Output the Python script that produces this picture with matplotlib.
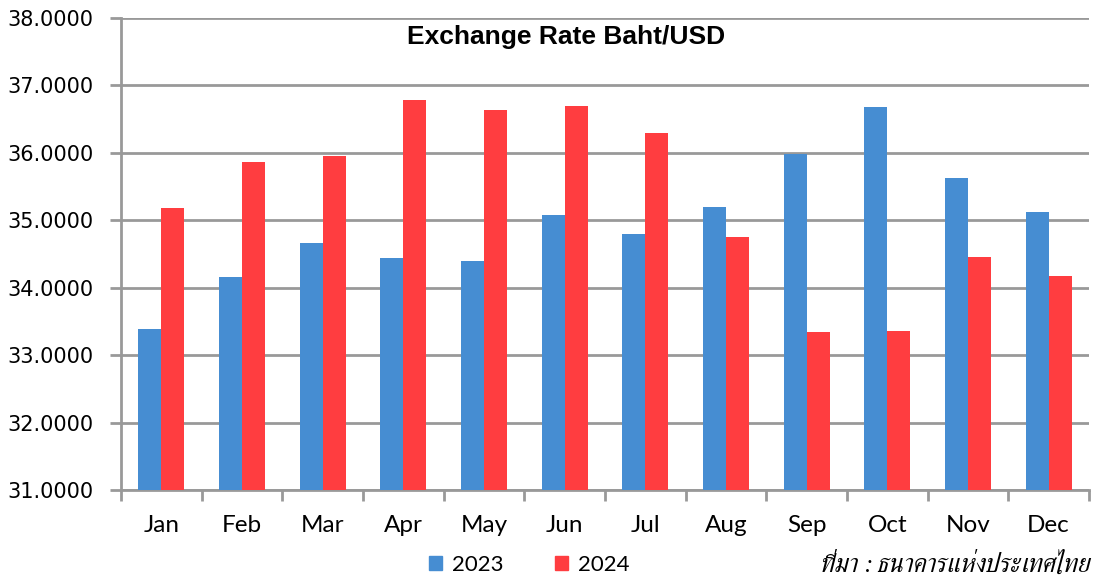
import matplotlib
matplotlib.use("Agg")
import matplotlib.pyplot as plt
import numpy as np
from matplotlib import font_manager
from matplotlib.ft2font import FT2Font
from matplotlib.patches import Rectangle

months = ["Jan", "Feb", "Mar", "Apr", "May", "Jun", "Jul", "Aug", "Sep", "Oct", "Nov", "Dec"]
rate_2023 = [33.39, 34.16, 34.66, 34.44, 34.40, 35.08, 34.79, 35.20, 35.99, 36.68, 35.62, 35.13]
rate_2024 = [35.18, 35.86, 35.95, 36.78, 36.64, 36.70, 36.29, 34.75, 33.35, 33.36, 34.45, 34.18]
series_labels = ["2023", "2024"]
yticks = [31, 32, 33, 34, 35, 36, 37, 38]
title = "Exchange Rate Baht/USD"
source = "ที่มา : ธนาคารแห่งประเทศไทย"

# find a font with Thai glyphs
thai_font = None
for f in font_manager.fontManager.ttflist:
    try:
        cm = FT2Font(f.fname).get_charmap()
        if ord("ท") in cm and ord("ไ") in cm:
            thai_font = f.name
            if "Italic" in f.fname or f.style == "italic":
                break
    except Exception:
        pass

c23 = "#468DD2"
c24 = "#FF3D40"
grid_c = "#999999"

fig = plt.figure(figsize=(10.93, 5.83), dpi=100)
ax = fig.add_axes([0.1107, 0.1595, 0.9963 - 0.1107, 0.9691 - 0.1595])

x = np.arange(len(months))
w = 0.285
ax.bar(x - w / 2, [v - 31 for v in rate_2023], w, bottom=31, color=c23, zorder=3, label=series_labels[0])
ax.bar(x + w / 2, [v - 31 for v in rate_2024], w, bottom=31, color=c24, zorder=3, label=series_labels[1])

ax.set_ylim(31, 38)
ax.set_xlim(-0.5, len(months) - 0.5)
ax.set_yticks(yticks)
ax.set_yticklabels([f"{t:.4f}" for t in yticks], fontsize=15, family="DejaVu Sans")
ax.yaxis.grid(True, color=grid_c, linewidth=2, zorder=0)
ax.set_axisbelow(True)
for s in ["top", "right"]:
    ax.spines[s].set_visible(False)
for s in ["left", "bottom"]:
    ax.spines[s].set_color(grid_c)
    ax.spines[s].set_linewidth(2)
ax.tick_params(axis="y", length=8, width=2, color=grid_c, pad=12)

ax.set_xticks(x)
ax.set_xticklabels(months, fontsize=17.5, family="Lato")
ax.tick_params(axis="x", length=0, pad=18)
ax.set_xticks(np.arange(len(months) + 1) - 0.5, minor=True)
ax.tick_params(axis="x", which="minor", length=8, width=2, color=grid_c)

fig.text(566 / 1093, 1 - 37 / 583, title, ha="center", va="center",
         fontsize=19, fontweight="bold", family="Liberation Sans")

# legend
handles = [Rectangle((0, 0), 1, 1, color=c23), Rectangle((0, 0), 1, 1, color=c24)]
leg = fig.legend(handles, series_labels, loc="center", bbox_to_anchor=(529 / 1093, 1 - 565 / 583),
                 ncol=2, frameon=False, prop={"family": "Lato", "size": 16},
                 handlelength=0.6, handleheight=0.6, handletextpad=0.45, columnspacing=2.3)

fam = [thai_font, "DejaVu Sans"] if thai_font else ["DejaVu Sans"]
fig.text(1091 / 1093, 1 - 565 / 583, source, ha="right", va="center", fontsize=18.5,
         style="italic", family=fam)

fig.savefig("out.png", dpi=100)
